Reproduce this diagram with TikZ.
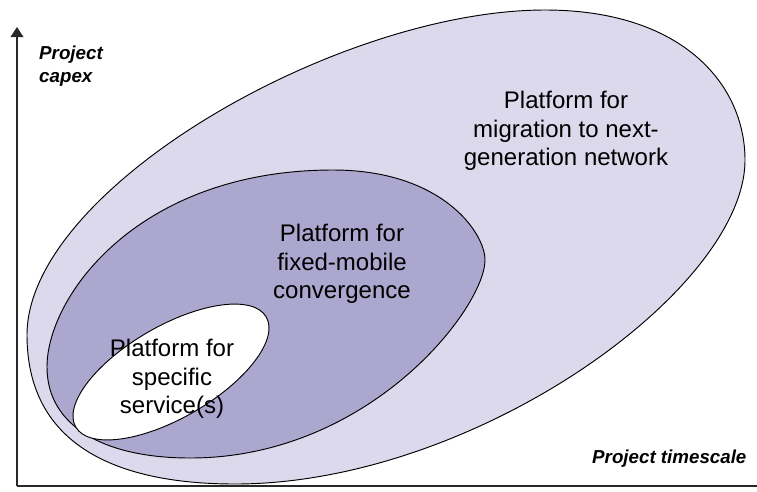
\documentclass[tikz,border=0pt]{standalone}
\usepackage{fontspec}
\setmainfont{Liberation Sans}
\usepackage{tikz}
\usetikzlibrary{positioning, arrows.meta}
\definecolor{outerfill}{RGB}{219,217,235}
\definecolor{midfill}{RGB}{172,167,206}
\definecolor{axisgray}{RGB}{40,40,40}

\begin{document}
\begin{tikzpicture}[
  x=0.03cm, y=-0.03cm,
  zone/.style={draw=black, line width=0.8pt},
  zonetext/.style={align=center, font=\fontsize{20.5}{24.3}\selectfont, inner sep=0pt},
  axislabel/.style={align=left, font=\fontsize{16}{19}\selectfont\bfseries\itshape, inner sep=0pt},
  axis/.style={draw=axisgray, line width=1.2pt},
  arr/.style={-{Triangle[length=0.3cm, width=0.38cm]}}
]
\useasboundingbox (0,0) rectangle (757,491);
\fill[white] (0,0) rectangle (757,491);
\draw[zone, fill=outerfill] (27,335)
  .. controls (27,188.75) and (337.8,10) .. (545,10)
  .. controls (683,10) and (745,85) .. (745,160)
  .. controls (745,289.6) and (474.7,484) .. (235,484)
  .. controls (112.3,484) and (27,442.3) .. cycle;
\draw[zone, fill=midfill] (47,367)
  .. controls (47,296.1) and (138.5,170) .. (333,170)
  .. controls (442.4,170) and (485,233) .. (485,260)
  .. controls (485,307.5) and (370,458) .. (190,458)
  .. controls (104.2,458) and (47,426.2) .. cycle;
\draw[zone, fill=white, rotate around={30:(171,372)}] (171,372) ellipse [x radius=110, y radius=46];
\node[zonetext] (migration) at (566,131) {Platform for\\migration to next-\\generation network};
\node[zonetext] (fmc) at (342,264) {Platform for\\fixed-mobile\\convergence};
\node[zonetext] (specific) at (172,379) {Platform for\\specific\\service(s)};
\node[axislabel, anchor=base west] (capex) at (39,82) {Project\\capex};
\node[axislabel, anchor=base west] (timescale) at (592,463) {Project timescale};
\coordinate (origin) at (17,486);
\coordinate (ytop) at (17,27);
\coordinate (xend) at (767,486);
\draw[axis, arr] (origin) -- (ytop);
\draw[axis, arr] (origin) -- (xend);
\end{tikzpicture}
\end{document}
